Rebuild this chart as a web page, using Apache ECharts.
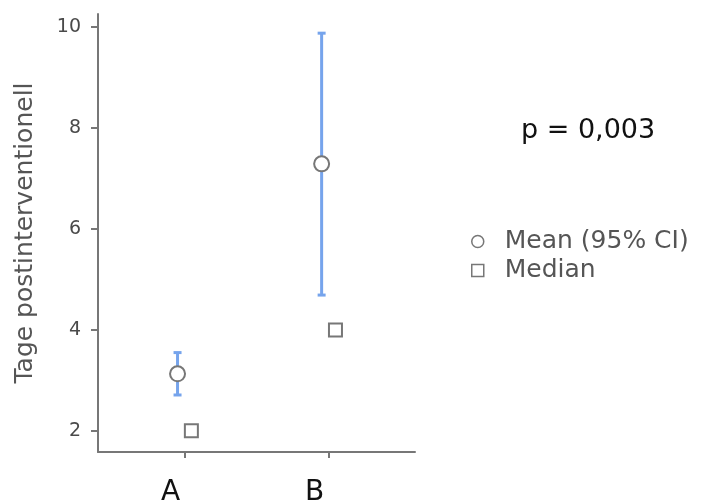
<!DOCTYPE html>
<html>
<head>
<meta charset="utf-8">
<script src="https://cdn.jsdelivr.net/npm/echarts@6/dist/echarts.min.js"></script>
<style>
html, body { margin: 0; padding: 0; background: #fff; }
#main { width: 703px; height: 503px; }
</style>
</head>
<body>
<div id="main"></div>
<script>
// groups and values
var categories = ['A', 'B'];
var means = [3.13, 7.29];
var ciLow = [2.71, 4.69];
var ciHigh = [3.55, 9.88];
var medians = [2, 4];
var yTicks = [2, 4, 6, 8, 10];
var pText = 'p = 0,003';

var shift = 0.048; // mean left of the tick, median right of it
var xTicks = categories.map(function (c, i) { return i + 1; });

var meanData = means.map(function (v, i) { return [i + 1 - shift, v]; });
var medianData = medians.map(function (v, i) { return [i + 1 + shift, v]; });
var ciData = means.map(function (v, i) { return [i + 1 - shift, ciLow[i], ciHigh[i]]; });

var gray = '#777';
var blue = '#76a4ec';

var chart = echarts.init(document.getElementById('main'));
chart.setOption({
  animation: false,
  textStyle: { fontFamily: 'DejaVu Sans' },
  title: {
    text: pText,
    left: 516, top: 112,
    textStyle: { fontSize: 27, fontWeight: 'normal', color: '#111', fontFamily: 'DejaVu Sans' }
  },
  legend: {
    orient: 'vertical',
    left: 466, top: 224,
    itemWidth: 12, itemHeight: 12, itemGap: 4,
    textStyle: { fontSize: 25, color: '#555', padding: [0, 0, 0, 16] },
    data: [
      { name: 'Mean (95% CI)', icon: 'circle', itemStyle: { color: '#fff', borderColor: gray, borderWidth: 1.5 } },
      { name: 'Median', icon: 'rect', itemStyle: { color: '#fff', borderColor: gray, borderWidth: 1.5 } }
    ]
  },
  grid: { left: 98, right: 288, top: 14, bottom: 51, outerBoundsMode: 'none' },
  xAxis: {
    type: 'value',
    min: 0.4, max: 2.6,
    splitLine: { show: false },
    axisLine: { lineStyle: { color: gray, width: 2 } },
    axisTick: { customValues: xTicks, length: 6, lineStyle: { color: gray, width: 2 } },
    axisLabel: {
      customValues: xTicks,
      margin: 27,
      fontSize: 28,
      color: '#111',
      padding: [0, 28, 0, 0],
      formatter: function (v) { return categories[Math.round(v) - 1]; }
    }
  },
  yAxis: {
    type: 'value',
    min: 1.58, max: 10.26,
    name: 'Tage postinterventionell',
    nameLocation: 'middle',
    nameGap: 60,
    nameTextStyle: { fontSize: 25, color: '#555' },
    splitLine: { show: false },
    axisLine: { show: true, lineStyle: { color: gray, width: 2 } },
    axisTick: { show: true, customValues: yTicks, length: 7, lineStyle: { color: gray, width: 2 } },
    axisLabel: { customValues: yTicks, fontSize: 19, color: '#4a4a4a', margin: 17 }
  },
  series: [
    {
      name: 'CI',
      type: 'custom',
      data: ciData,
      z: 1,
      renderItem: function (params, api) {
        var lo = api.coord([api.value(0), api.value(1)]);
        var hi = api.coord([api.value(0), api.value(2)]);
        var cap = 4;
        var st = { stroke: blue, lineWidth: 3 };
        return {
          type: 'group',
          children: [
            { type: 'line', shape: { x1: lo[0], y1: lo[1], x2: hi[0], y2: hi[1] }, style: st },
            { type: 'line', shape: { x1: lo[0] - cap, y1: lo[1], x2: lo[0] + cap, y2: lo[1] }, style: st },
            { type: 'line', shape: { x1: hi[0] - cap, y1: hi[1], x2: hi[0] + cap, y2: hi[1] }, style: st }
          ]
        };
      }
    },
    {
      name: 'Mean (95% CI)',
      type: 'scatter',
      data: meanData,
      symbol: 'circle',
      symbolSize: 15,
      z: 3,
      itemStyle: { color: '#fff', borderColor: gray, borderWidth: 2, opacity: 1 }
    },
    {
      name: 'Median',
      type: 'scatter',
      data: medianData,
      symbol: 'rect',
      symbolSize: 13,
      z: 3,
      itemStyle: { color: '#fff', borderColor: gray, borderWidth: 2, opacity: 1 }
    }
  ]
});
</script>
</body>
</html>
